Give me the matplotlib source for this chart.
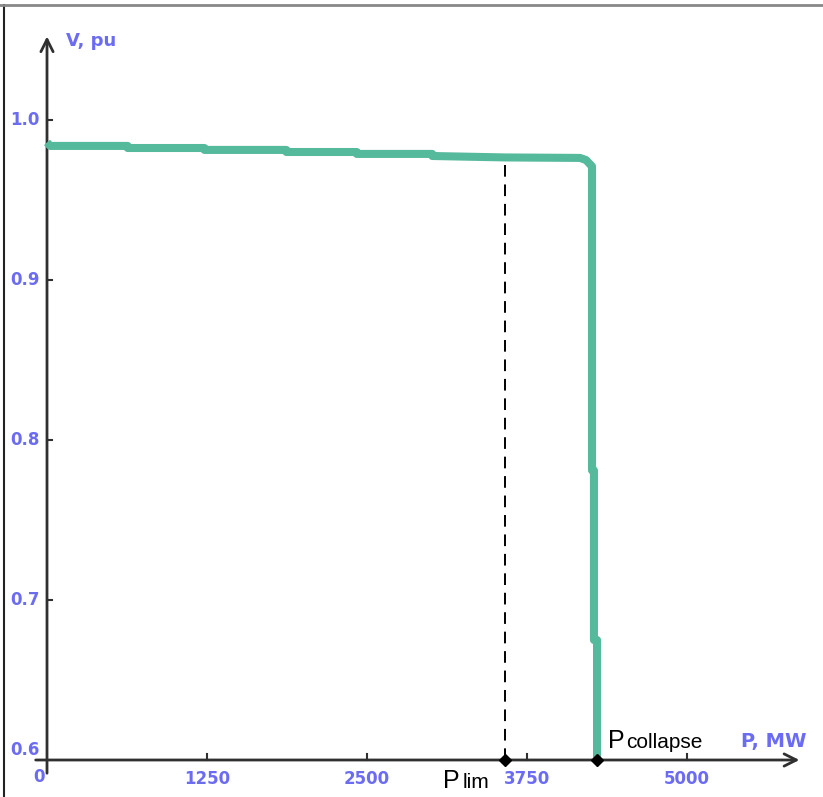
import matplotlib.pyplot as plt
from matplotlib.lines import Line2D

# P-V curve (MW, pu)
p_mw = [0, 25, 630, 630, 1230, 1230, 1870, 1870, 2420, 2420, 3010, 3010, 3580,
        4164, 4211, 4258, 4258, 4273, 4273, 4297, 4297]
v_pu = [0.986, 0.9838, 0.9838, 0.9825, 0.9825, 0.9813, 0.9813, 0.98, 0.98, 0.9788,
        0.9788, 0.9775, 0.9766, 0.9763, 0.975, 0.971, 0.781, 0.781, 0.675, 0.675, 0.6]
p_lim = 3580
p_collapse = 4297
x_ticks = [1250, 2500, 3750, 5000]
x_labels = ["1250", "2500", "3750", "5000"]
y_ticks = [0.6, 0.7, 0.8, 0.9, 1.0]
y_labels = ["0.6", "0.7", "0.8", "0.9", "1.0"]

blue = '#6b6cf2'
green = '#55b99b'
axcol = '#303030'

fig = plt.figure(figsize=(8.23, 7.97), dpi=100)
ax = fig.add_axes([0, 0, 1, 1])
ax.set_xlim(-367.19, 6062.5)
ax.set_ylim(0.576875, 1.075)
ax.axis('off')

# frame of the picture
fig.add_artist(Line2D([0.005, 0.005], [0, 0.994], color='#222222', lw=1.5))
fig.add_artist(Line2D([0.0, 0.999], [0.994, 0.994], color='#888888', lw=2))

# axes with open arrow heads
ax.annotate('', xy=(5900, 0.6), xytext=(-110, 0.6),
            arrowprops=dict(arrowstyle='->', color=axcol, lw=2, mutation_scale=22))
ax.annotate('', xy=(0, 1.054), xytext=(0, 0.59),
            arrowprops=dict(arrowstyle='->', color=axcol, lw=2, mutation_scale=22))

tick_font = dict(color=blue, fontsize=12, fontweight='bold')
for t, lab in zip(x_ticks, x_labels):
    ax.plot([t, t], [0.6, 0.6035], color=axcol, lw=1.5)
    ax.text(t, 0.588, lab, ha='center', va='center', **tick_font)
ax.text(-65, 0.5895, "0", ha='center', va='center', **tick_font)

for t, lab in zip(y_ticks, y_labels):
    if t > 0.6:
        ax.plot([0, 40], [t, t], color=axcol, lw=1.5)
        ax.text(-55, t, lab, ha='right', va='center', **tick_font)
    else:
        ax.text(-55, 0.6065, lab, ha='right', va='center', **tick_font)

ax.text(150, 1.0495, "V, pu", color=blue, fontsize=13, fontweight='bold', ha='left', va='center')
ax.text(5420, 0.6115, "P, MW", color=blue, fontsize=14, fontweight='bold', ha='left', va='center')

# curve
ax.plot(p_mw, v_pu, color=green, lw=5.8, solid_joinstyle='round', solid_capstyle='butt', zorder=3)

# P lim dashed line and markers
ax.plot([p_lim, p_lim], [0.6, 0.9766], color='black', lw=1.4, ls=(0, (6, 4)), zorder=2)
ax.plot([p_lim, p_collapse], [0.6, 0.6], 'D', color='black', ms=6, zorder=4)

ax.text(3095, 0.5825, "P", fontsize=18, family='Liberation Sans', ha='left', va='baseline')
ax.text(3245, 0.5825, "lim", fontsize=15, family='Liberation Sans', ha='left', va='baseline')
ax.text(4385, 0.6075, "P", fontsize=18, family='Liberation Sans', ha='left', va='baseline')
ax.text(4525, 0.6075, "collapse", fontsize=15, family='Liberation Sans', ha='left', va='baseline')

fig.savefig('out.png', dpi=100)
